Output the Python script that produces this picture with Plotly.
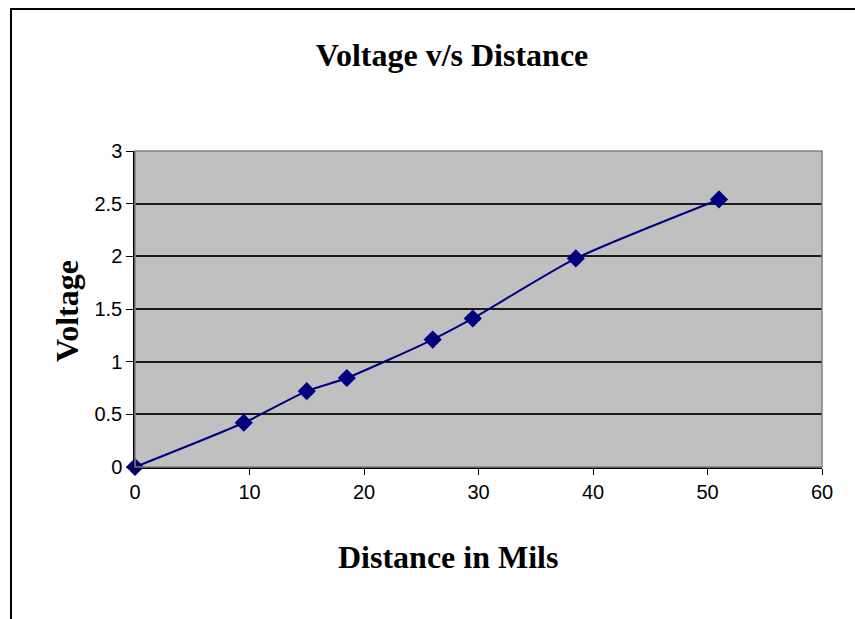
import plotly.graph_objects as go

distance = [0, 9.5, 15, 18.5, 26, 29.5, 38.5, 51]
voltage = [0, 0.42, 0.72, 0.845, 1.21, 1.41, 1.98, 2.54]

x_ticks = [0, 10, 20, 30, 40, 50, 60]
y_ticks = [0, 0.5, 1, 1.5, 2, 2.5, 3]
y_tick_text = ["0", "0.5", "1", "1.5", "2", "2.5", "3"]

W, H = 855, 619
L, R, T, B = 135, 33, 151, 152
pw, ph = W - L - R, H - T - B


def px(xp):
    return (xp - L) / pw


def py(yp):
    return (H - B - yp) / ph


fig = go.Figure()
fig.add_trace(go.Scatter(
    x=distance, y=voltage, mode="lines+markers",
    line=dict(color="#000080", width=2, shape="spline", smoothing=0.6),
    marker=dict(symbol="diamond", size=14, color="#000080"),
    showlegend=False, cliponaxis=False,
))

fig.update_layout(
    width=W, height=H,
    margin=dict(l=L, r=R, t=T, b=B, pad=0),
    paper_bgcolor="white", plot_bgcolor="#c0c0c0",
    title=dict(text="<b>Voltage v/s Distance</b>", x=px(452), xref="paper",
               xanchor="center", y=1 - 55 / H, yanchor="middle",
               font=dict(family="Liberation Serif", size=32, color="black")),
    xaxis=dict(range=[0, 60], tickvals=x_ticks, ticks="outside", ticklen=6,
               tickcolor="black", showline=True, linecolor="black", linewidth=1.5,
               showgrid=False, zeroline=False, mirror=False,
               tickfont=dict(family="Liberation Sans", size=20, color="black")),
    yaxis=dict(range=[0, 3], tickvals=y_ticks, ticktext=y_tick_text, ticks="outside",
               ticklen=7, tickcolor="black", showline=True, linecolor="black",
               linewidth=1.5, showgrid=True, gridcolor="#1a1a1a", gridwidth=1.5,
               zeroline=False,
               tickfont=dict(family="Liberation Sans", size=20, color="black")),
    annotations=[
        dict(text="<b>Distance in Mils</b>", xref="paper", yref="paper",
             x=px(448), y=py(557), xanchor="center", yanchor="middle",
             showarrow=False,
             font=dict(family="Liberation Serif", size=32, color="black")),
        dict(text="<b>Voltage</b>", xref="paper", yref="paper",
             x=px(67), y=py(311), xanchor="center", yanchor="middle",
             textangle=-90, showarrow=False,
             font=dict(family="Liberation Serif", size=32, color="black")),
    ],
)

# plot-area border (gray on top/right)
fig.add_shape(type="rect", xref="paper", yref="paper", x0=0, y0=0, x1=1, y1=1,
              line=dict(color="#808080", width=1.5), layer="above")
# outer chart frame (cropped at right and bottom)
fig.add_shape(type="rect", xref="paper", yref="paper",
              x0=px(11), x1=px(W + 20),
              y0=py(H + 20), y1=py(9),
              line=dict(color="black", width=2), layer="above")

fig.write_html("out.html")
